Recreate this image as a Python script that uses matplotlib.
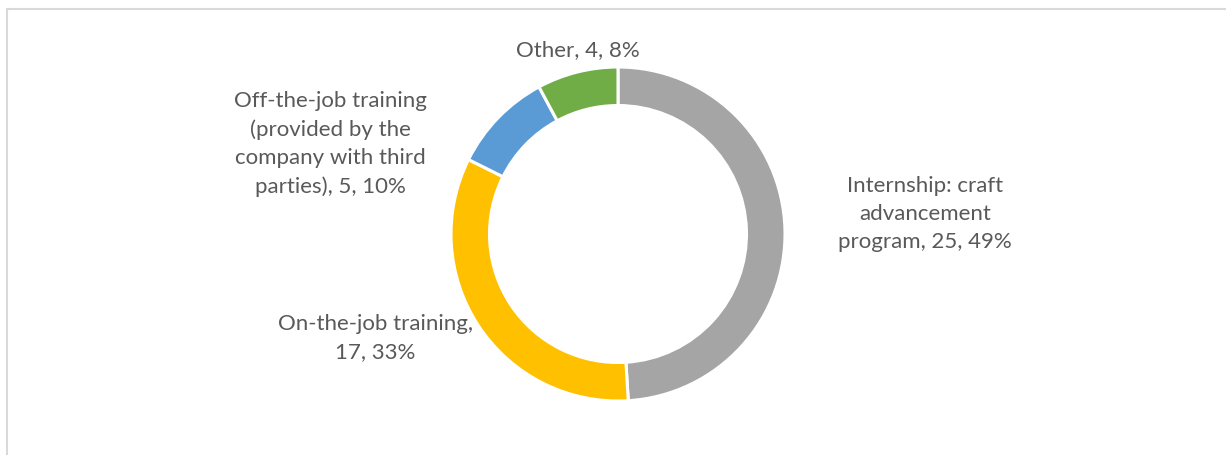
import matplotlib
matplotlib.use('Agg')
from matplotlib import pyplot as plt
from matplotlib.patches import Rectangle

# data
categories = ['Internship: craft\nadvancement\nprogram', 'On-the-job training,\n',
              'Off-the-job training\n(provided by the\ncompany with third\nparties)', 'Other']
values = [25, 17, 5, 4]
colors = ['#A5A5A5', '#FFC000', '#5B9BD5', '#70AD47']

W, H = 1226, 456
fig = plt.figure(figsize=[W / 100, H / 100], dpi=100)
ax = fig.add_axes([0, 0, 1, 1])

# chart frame
ax.add_patch(Rectangle((7, -10), W + 10, H - 10 + 10, fill=False, edgecolor='#D9D9D9', linewidth=1.5))

cx, cy = 618, H - 235
r_out, r_in = 167, 128.5
wedges, _ = ax.pie(values, colors=colors, startangle=90, counterclock=False,
                   center=(cx, cy), radius=r_out, frame=True,
                   wedgeprops=dict(width=r_out - r_in, edgecolor='white', linewidth=2.2))
ax.set_xlim(0, W)
ax.set_ylim(0, H)
ax.set_aspect('equal')
ax.axis('off')

total = sum(values)
pct = [round(v * 100 / total) for v in values]
lbl = [f'{c}, {v}, {p}%' for c, v, p in zip(categories, values, pct)]
# 'On-the-job training,\n' already holds its comma and line break
lbl[1] = f'{categories[1]}{values[1]}, {pct[1]}%'

tstyle = dict(fontsize=16, color='#595959', family=['Lato', 'DejaVu Sans'], linespacing=1.5)
ax.text(925, H - 214, lbl[0], ha='center', va='center', **tstyle)
ax.text(375, H - 338, lbl[1], ha='center', va='center', **tstyle)
ax.text(330, H - 144, lbl[2], ha='center', va='center', **tstyle)
ax.text(578, H - 50, lbl[3], ha='center', va='center', **tstyle)

fig.savefig('out.png', dpi=100)
